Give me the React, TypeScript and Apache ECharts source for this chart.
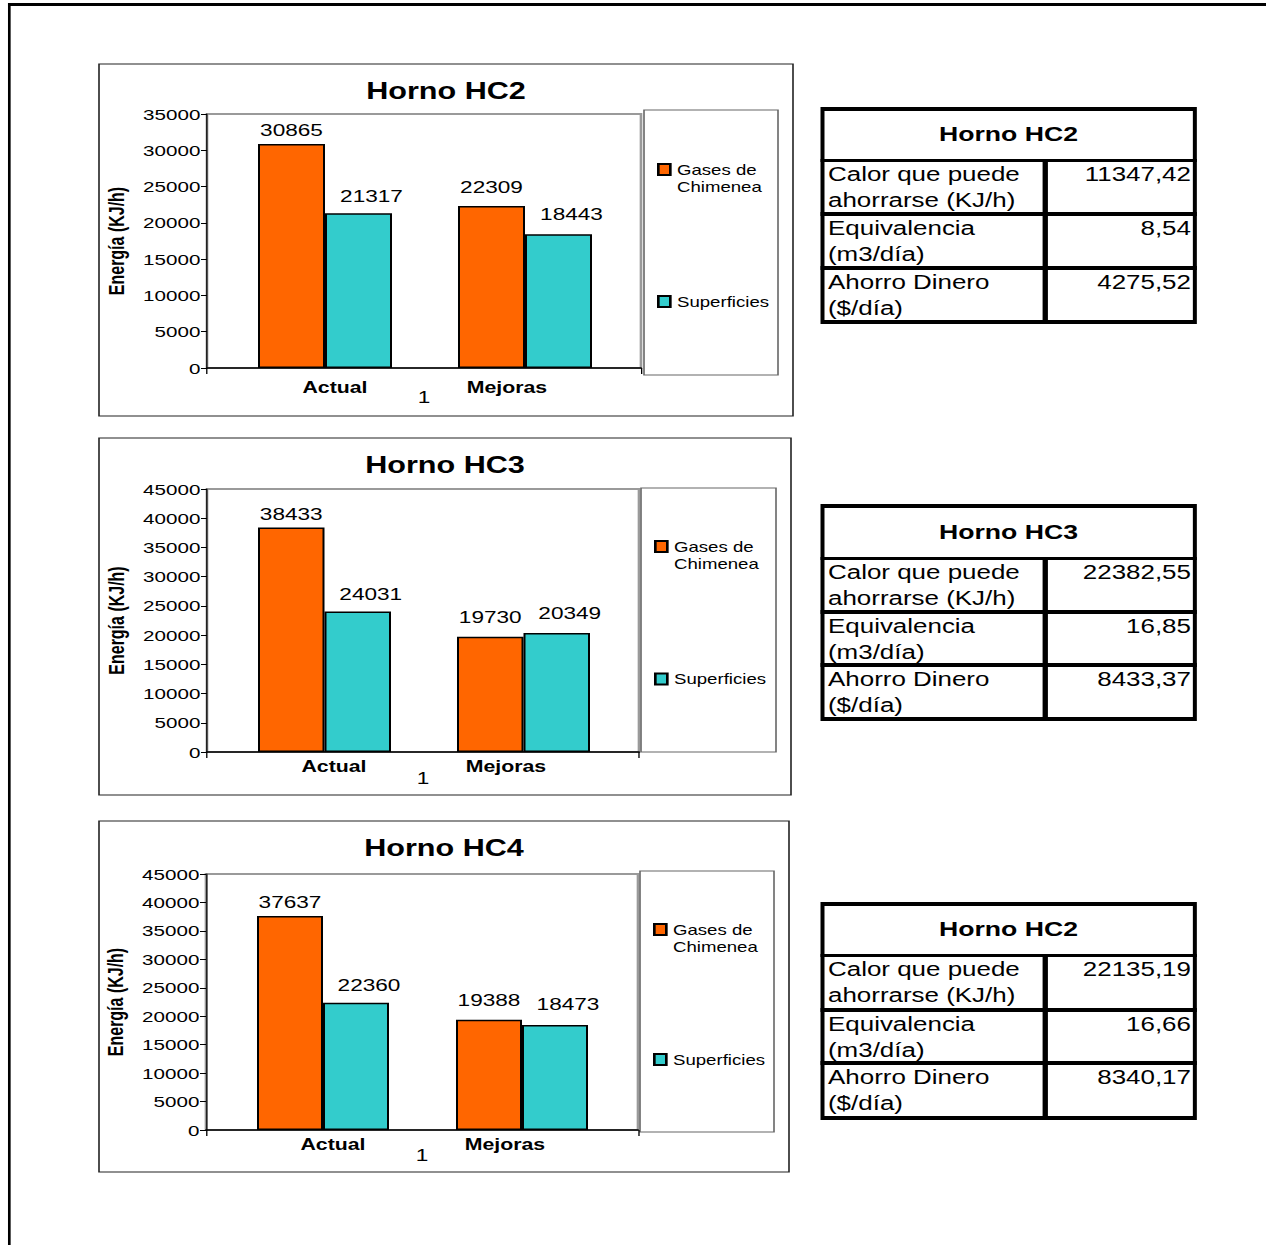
import React, { useEffect, useRef } from 'react';
import * as echarts from 'echarts';

// horizontal stretch of the reference page
const K = 1266 / 952;
const X = (v: number) => v / K;

const categories = ['Actual', 'Mejoras'];
const groupLabel = ['1'];
const seriesNames = ['Gases de Chimenea', 'Superficies'];
const chartTitles = ['Horno HC2', 'Horno HC3', 'Horno HC4'];
const hc2Gases = [30865, 22309];
const hc2Superficies = [21317, 18443];
const hc3Gases = [38433, 19730];
const hc3Superficies = [24031, 20349];
const hc4Gases = [37637, 19388];
const hc4Superficies = [22360, 18473];
const yAxisMax = [35000, 45000, 45000];
const yAxisInterval = 5000;
const yAxisName = 'Energía (KJ/h)';

const tableTitles = ['Horno HC2', 'Horno HC3', 'Horno HC2'];
const tableRowLabels = [
  ['Calor que puede', 'ahorrarse (KJ/h)'],
  ['Equivalencia', '(m3/día)'],
  ['Ahorro Dinero', '($/día)'],
];
const table1Values = ['11347,42', '8,54', '4275,52'];
const table2Values = ['22382,55', '16,85', '8433,37'];
const table3Values = ['22135,19', '16,66', '8340,17'];

const COLORS = ['#FF6600', '#33CCCC'];
const FONT = "'Liberation Sans', Arial, Helvetica, sans-serif";

const chartData = [
  [hc2Gases, hc2Superficies],
  [hc3Gases, hc3Superficies],
  [hc4Gases, hc4Superficies],
];

// label offsets (reference px) per series, per category
const labelOffsets = [
  [[0, 0], [0, -6]],
  [[13, -4], [13, -7]],
];

const layouts = [
  {
    box: [99, 64, 793, 416], title: [446, 91], frame: [207, 114, 641, 368], bars: [225, 625], barW: 67,
    labels: [249, 593], catMargin: 11, oneMargin: 21, legendBox: [644, 110, 778, 375], legendX: 657, gasY: 169.5, supY: 301.5,
  },
  {
    box: [99, 438, 791, 795], title: [445, 465], frame: [207, 489, 639, 752], bars: [225, 623], barW: 66.5,
    labels: [248, 592], catMargin: 6, oneMargin: 18, legendBox: [641, 488, 776, 752], legendX: 654, gasY: 546.5, supY: 679,
  },
  {
    box: [99, 821, 789, 1172], title: [444, 848], frame: [206, 874, 638, 1130], bars: [223.5, 621.5], barW: 66,
    labels: [247, 591], catMargin: 6, oneMargin: 17, legendBox: [640, 871, 774, 1132], legendX: 653, gasY: 929.5, supY: 1059.5,
  },
];

const tableLayouts = [
  { outer: [820, 107, 1197, 324], seps: [160, 214, 268], values: table1Values },
  { outer: [820, 504, 1197, 721], seps: [558, 612, 665], values: table2Values },
  { outer: [820, 902, 1197, 1120], seps: [955, 1010, 1063], values: table3Values },
];
const COL_X = 1045;

function buildOption() {
  const grid: any[] = [];
  const xAxis: any[] = [];
  const yAxis: any[] = [];
  const series: any[] = [];
  const legend: any[] = [];
  const graphic: any[] = [];

  layouts.forEach((L, i) => {
    const top = L.frame[1];
    const height = L.frame[3] - L.frame[1];
    const gF = grid.length;
    grid.push({
      left: X(L.frame[0]), top, width: X(L.frame[2] - L.frame[0]), height,
      show: true, borderColor: '#9a9a9a', borderWidth: 2, backgroundColor: 'transparent',
    });
    const gB = grid.length;
    grid.push({ left: X(L.bars[0]), top, width: X(L.bars[1] - L.bars[0]), height });
    const gL = grid.length;
    grid.push({ left: X(L.labels[0]), top, width: X(L.labels[1] - L.labels[0]), height });

    xAxis.push({
      gridIndex: gF, type: 'category', data: groupLabel,
      axisLine: { show: true, lineStyle: { color: '#000', width: 1.5 } },
      axisTick: { show: true, length: 6, lineStyle: { color: '#000', width: 1 } },
      axisLabel: { fontSize: 17, color: '#000', margin: L.oneMargin, fontFamily: FONT },
      splitLine: { show: false },
    });
    const xB = xAxis.length;
    xAxis.push({ gridIndex: gB, type: 'category', data: categories, show: false });
    xAxis.push({
      gridIndex: gL, type: 'category', data: categories,
      axisLine: { show: false }, axisTick: { show: false }, splitLine: { show: false },
      axisLabel: { fontSize: 16, fontWeight: 'bold', color: '#000', margin: L.catMargin, fontFamily: FONT },
    });

    yAxis.push({
      gridIndex: gF, type: 'value', min: 0, max: yAxisMax[i], interval: yAxisInterval,
      axisLine: { show: true, lineStyle: { color: '#222', width: 1.2 } },
      axisTick: { show: true, length: 4.5, lineStyle: { color: '#000', width: 1 } },
      axisLabel: { fontSize: 15.5, color: '#000', margin: 5, fontFamily: FONT, formatter: (v: number) => String(v) },
      splitLine: { show: false },
      name: yAxisName, nameLocation: 'middle', nameGap: 60,
      nameTextStyle: { fontSize: 16, fontWeight: 'bold', color: '#000', fontFamily: FONT },
    });
    const yB = yAxis.length;
    yAxis.push({ gridIndex: gB, type: 'value', min: 0, max: yAxisMax[i], show: false, splitLine: { show: false } });
    yAxis.push({ gridIndex: gL, type: 'value', min: 0, max: yAxisMax[i], show: false, splitLine: { show: false } });

    chartData[i].forEach((vals, s) => {
      series.push({
        type: 'bar', name: seriesNames[s], xAxisIndex: xB, yAxisIndex: yB,
        data: vals.map((v, k) => ({
          value: v,
          label: { offset: [X(labelOffsets[s][k][0]), labelOffsets[s][k][1]] },
        })),
        barWidth: X(L.barW), barGap: '0%',
        itemStyle: { color: COLORS[s], borderColor: '#000', borderWidth: 1.5 },
        label: { show: true, position: 'top', distance: 5, fontSize: 17, color: '#000', fontFamily: FONT },
      });
    });

    legend.push({
      data: [seriesNames[0]], left: X(L.legendX), top: L.gasY - 25.5, padding: 0,
      itemWidth: X(12), itemHeight: 11, icon: 'rect',
      formatter: () => ' \nGases de\nChimenea',
      textStyle: { fontSize: 14, lineHeight: 17, color: '#000', fontFamily: FONT },
    });
    legend.push({
      data: [seriesNames[1]], left: X(L.legendX), top: L.supY - 8.5, padding: 0,
      itemWidth: X(12), itemHeight: 11, icon: 'rect',
      textStyle: { fontSize: 14, lineHeight: 17, color: '#000', fontFamily: FONT },
    });

    const b = L.box;
    graphic.push({
      type: 'rect', shape: { x: X(b[0]), y: b[1], width: X(b[2] - b[0]), height: b[3] - b[1] },
      style: { fill: 'none', stroke: '#222', lineWidth: 1.2 }, silent: true,
    });
    const lb = L.legendBox;
    graphic.push({
      type: 'rect', shape: { x: X(lb[0]), y: lb[1], width: X(lb[2] - lb[0]), height: lb[3] - lb[1] },
      style: { fill: 'none', stroke: '#666', lineWidth: 1.2 }, silent: true,
    });
    graphic.push({
      type: 'text', x: X(L.title[0]), y: L.title[1],
      style: {
        text: chartTitles[i], fontSize: 23, fontWeight: 'bold', fontFamily: FONT, fill: '#000',
        align: 'center', verticalAlign: 'middle',
      },
      silent: true,
    });
  });

  return {
    animation: false,
    backgroundColor: 'transparent',
    textStyle: { fontFamily: FONT },
    grid, xAxis, yAxis, series, legend, graphic,
  };
}

function DataTable({ idx }: { idx: number }) {
  const T = tableLayouts[idx];
  const [x0, y0, x1, y1] = T.outer;
  const sepH = [3, 4, 4];
  const txt: React.CSSProperties = { position: 'absolute', fontSize: 19.5, lineHeight: '26px', color: '#000', whiteSpace: 'nowrap' };
  return (
    <>
      <div style={{
        position: 'absolute', left: X(x0), top: y0, width: X(x1 - x0), height: y1 - y0, boxSizing: 'border-box',
        borderTop: '4px solid #000', borderBottom: '4px solid #000',
        borderLeft: `${X(4.5)}px solid #000`, borderRight: `${X(4.5)}px solid #000`,
      }} />
      <div style={{
        position: 'absolute', left: X(x0), width: X(x1 - x0), top: y0 + 2, height: T.seps[0] - y0 - 2,
        display: 'flex', alignItems: 'center', justifyContent: 'center', fontWeight: 'bold', fontSize: 20, color: '#000',
      }}>{tableTitles[idx]}</div>
      {T.seps.map((s, k) => (
        <div key={'s' + k} style={{ position: 'absolute', left: X(x0), width: X(x1 - x0), top: s - sepH[k] / 2, height: sepH[k], background: '#000' }} />
      ))}
      <div style={{ position: 'absolute', left: X(COL_X - 2.5), width: X(5), top: T.seps[0], height: y1 - T.seps[0], background: '#000' }} />
      {tableRowLabels.map((lines, r) => (
        <div key={'l' + r} style={{ ...txt, left: X(828), top: T.seps[r] + 1 }}>
          {lines[0]}<br />{lines[1]}
        </div>
      ))}
      {T.values.map((v, r) => (
        <div key={'v' + r} style={{ ...txt, left: X(COL_X + 4), width: X(1191 - COL_X - 4), textAlign: 'right', top: T.seps[r] + 1 }}>
          {v}
        </div>
      ))}
    </>
  );
}

export default function App() {
  const ref = useRef<HTMLDivElement>(null);
  useEffect(() => {
    document.body.style.overflow = 'hidden';
    const chart = echarts.init(ref.current!, null, { renderer: 'svg' });
    chart.setOption(buildOption());
    return () => chart.dispose();
  }, []);
  return (
    <div style={{
      position: 'absolute', left: 0, top: 0, width: X(1266), height: 1245, overflow: 'hidden',
      transform: `scaleX(${K})`, transformOrigin: '0 0', background: '#fff', fontFamily: FONT,
    }}>
      <div style={{
        position: 'absolute', left: X(8), top: 3, width: X(1300), height: 1300,
        borderTop: '3.5px solid #000', borderLeft: `${X(3.5)}px solid #000`,
      }} />
      <div ref={ref} style={{ position: 'absolute', left: 0, top: 0, width: X(1266), height: 1245 }} />
      <DataTable idx={0} />
      <DataTable idx={1} />
      <DataTable idx={2} />
    </div>
  );
}
